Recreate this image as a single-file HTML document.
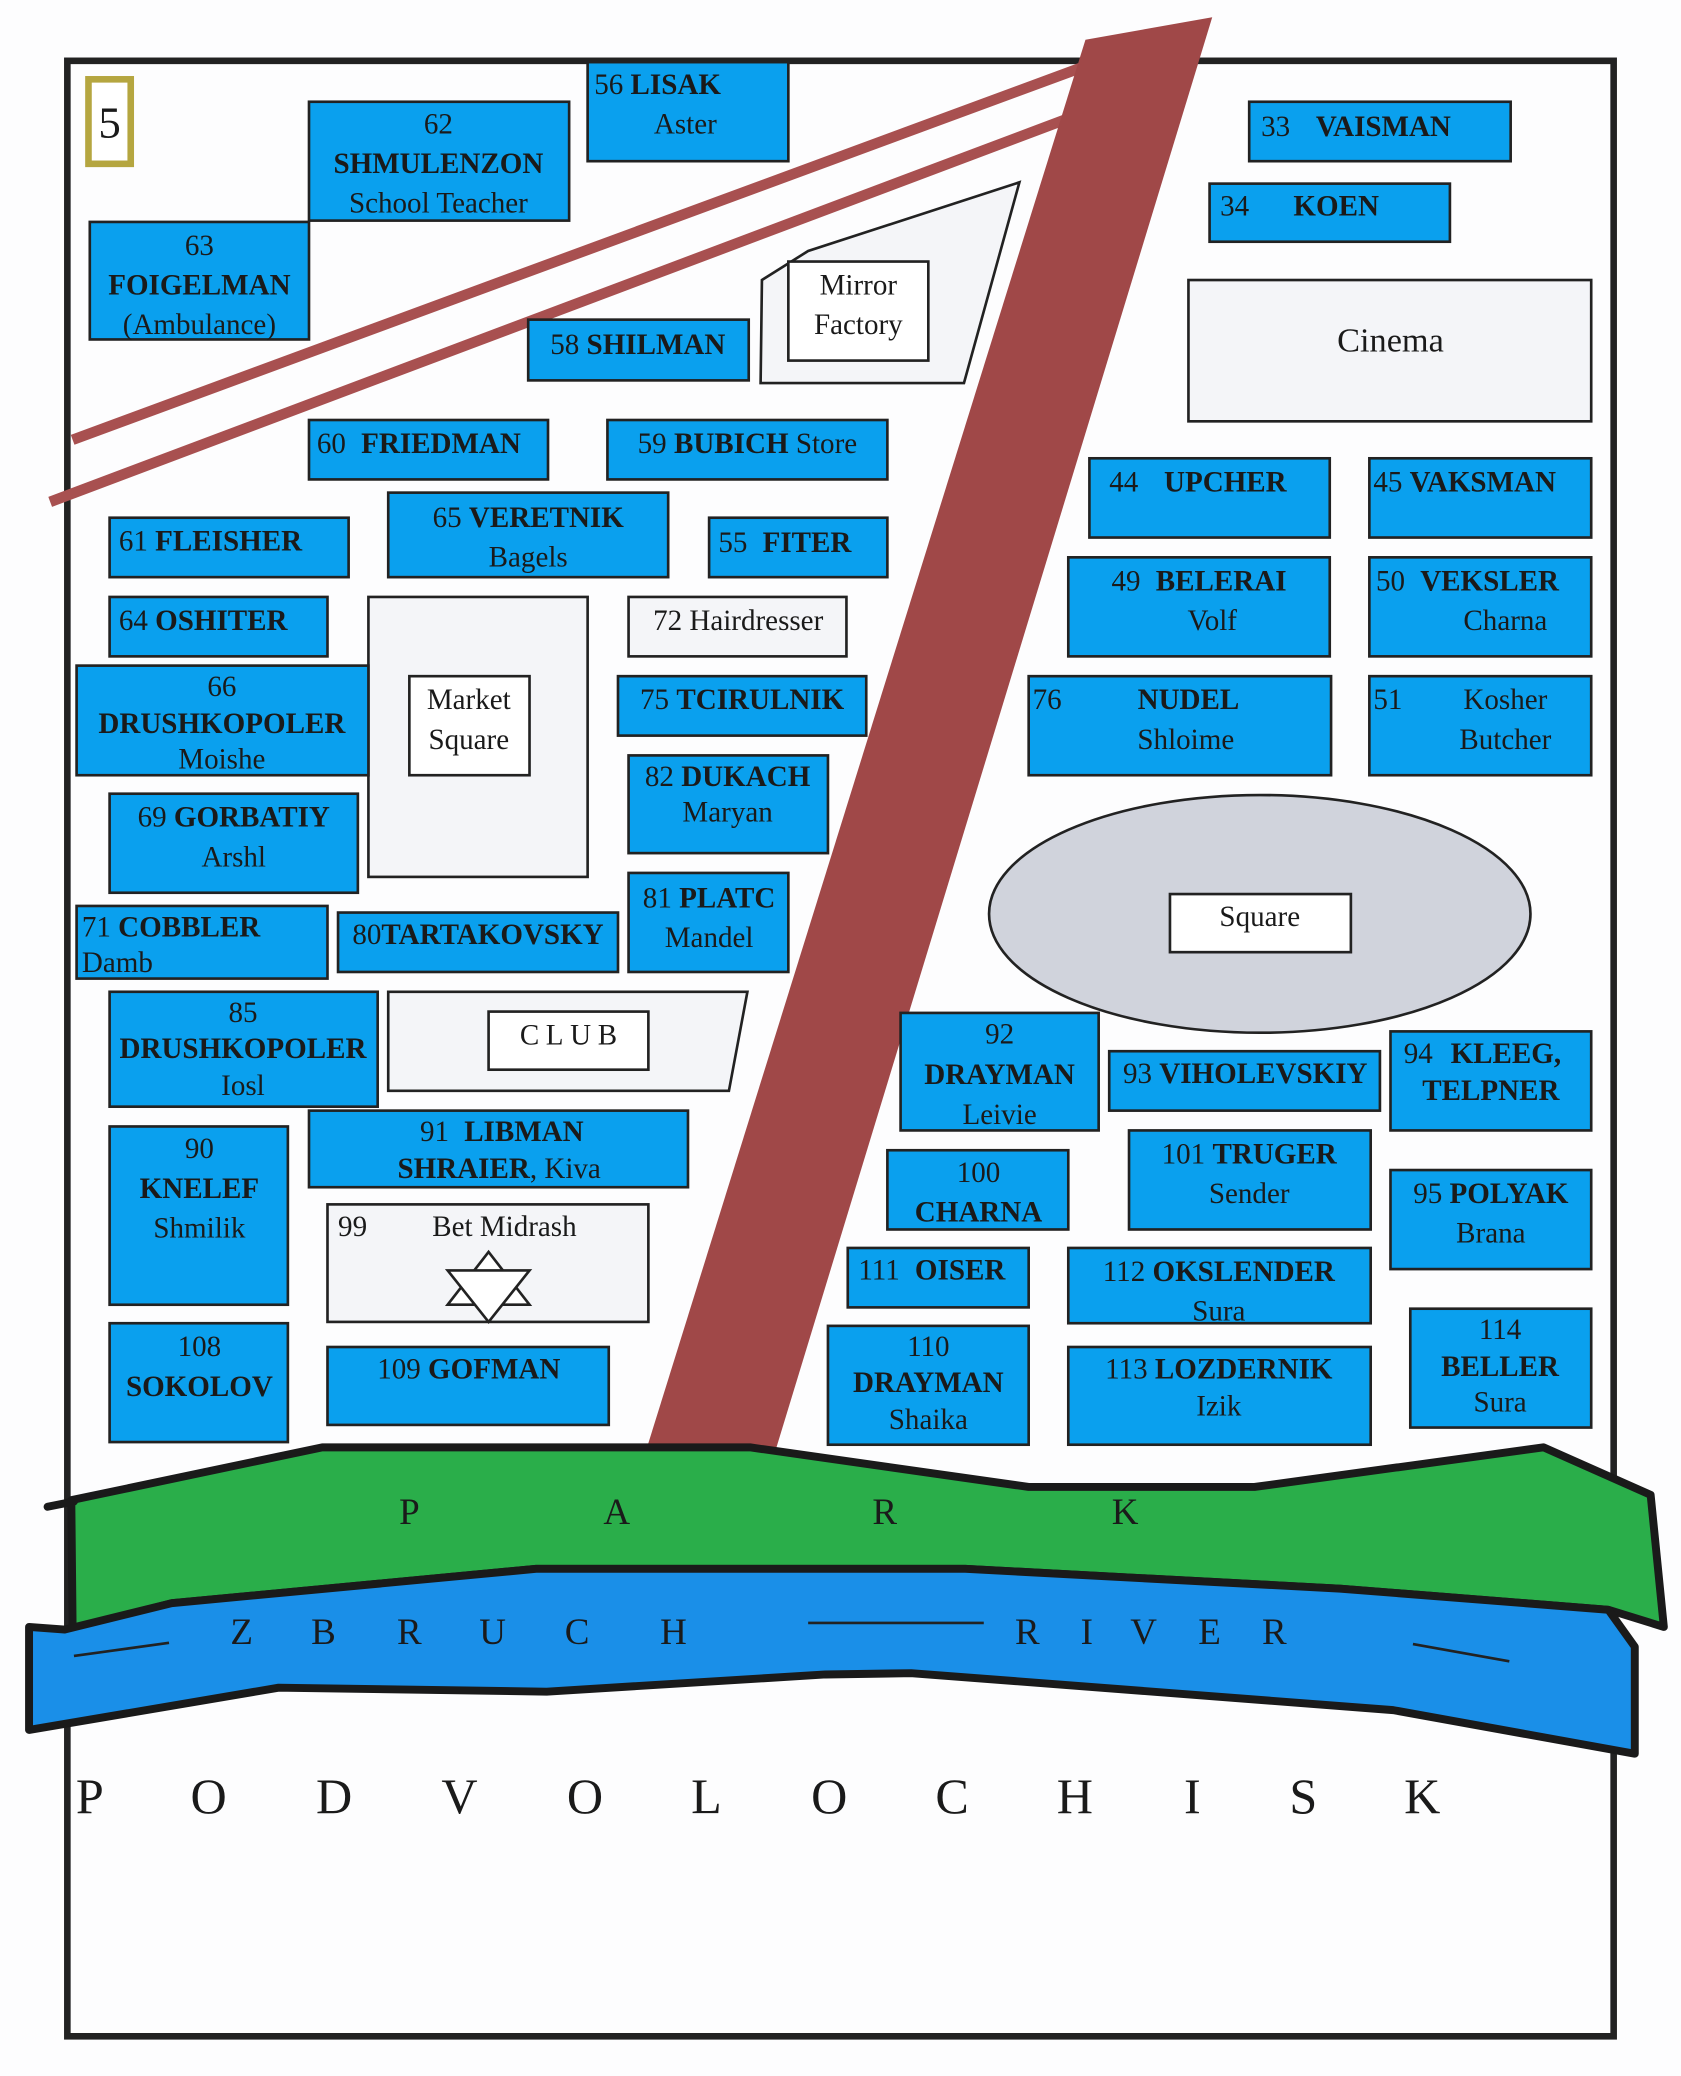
<!DOCTYPE html>
<html><head><meta charset="utf-8">
<style>
html,body{margin:0;padding:0;background:#fdfdfe;}
svg{display:block;}
text{font-family:"Liberation Serif",serif;font-size:22px;fill:#1a1a1a;}
.b{font-weight:bold;}
.bx{fill:#0aa0ee;stroke:#222;stroke-width:2;}
.wb{fill:#f4f5f8;stroke:#222;stroke-width:2;}
.wi{fill:#fff;stroke:#222;stroke-width:2;}
.pk text{font-size:28px;}
.pv text{font-size:38px;}
</style></head><body>
<svg width="1681" height="2076" viewBox="0 0 1273 1572" xmlns="http://www.w3.org/2000/svg">
<rect x="0" y="0" width="1273" height="1572" fill="#fdfdfe"/>
<rect x="51" y="46" width="1171" height="1496" fill="none" stroke="#222" stroke-width="5"/>
<rect x="67" y="60" width="32" height="64" fill="#fff" stroke="#b5a640" stroke-width="5"/>
<text x="83" y="104" text-anchor="middle" style="font-size:34px">5</text>

<line x1="55" y1="333" x2="822" y2="50" stroke="#a85050" stroke-width="8"/>
<line x1="38" y1="380" x2="808" y2="90" stroke="#a85050" stroke-width="8"/>

<rect class="bx" x="445" y="47" width="152" height="75"/>
<text x="450" y="71"><tspan>56 </tspan><tspan class="b">LISAK</tspan></text>
<text x="519" y="101" text-anchor="middle">Aster</text>

<rect class="bx" x="234" y="77" width="197" height="90"/>
<text x="332" y="101" text-anchor="middle">62</text>
<text x="332" y="131" text-anchor="middle" class="b">SHMULENZON</text>
<text x="332" y="161" text-anchor="middle">School Teacher</text>

<rect class="bx" x="68" y="168" width="166" height="89"/>
<text x="151" y="193" text-anchor="middle">63</text>
<text x="151" y="223" text-anchor="middle" class="b">FOIGELMAN</text>
<text x="151" y="253" text-anchor="middle">(Ambulance)</text>

<rect class="bx" x="946" y="77" width="198" height="45"/>
<text x="955" y="103"><tspan>33 </tspan><tspan class="b" dx="14">VAISMAN</tspan></text>
<rect class="bx" x="916" y="139" width="182" height="44"/>
<text x="924" y="163"><tspan>34 </tspan><tspan class="b" dx="28">KOEN</tspan></text>

<rect class="wb" x="900" y="212" width="305" height="107"/>
<text x="1053" y="266" text-anchor="middle" style="font-size:26px">Cinema</text>

<polygon class="wb" points="577,212 612,190 772,138 730,290 576,290"/>
<rect class="wi" x="597" y="198" width="106" height="75"/>
<text x="650" y="223" text-anchor="middle">Mirror</text>
<text x="650" y="253" text-anchor="middle">Factory</text>

<rect class="bx" x="400" y="242" width="167" height="46"/>
<text x="483" y="268" text-anchor="middle"><tspan>58 </tspan><tspan class="b">SHILMAN</tspan></text>

<rect class="bx" x="234" y="318" width="181" height="45"/>
<text x="240" y="343"><tspan>60 </tspan><tspan class="b" dx="6">FRIEDMAN</tspan></text>
<rect class="bx" x="460" y="318" width="212" height="45"/>
<text x="566" y="343" text-anchor="middle"><tspan>59 </tspan><tspan class="b">BUBICH</tspan><tspan> Store</tspan></text>

<rect class="bx" x="825" y="347" width="182" height="60"/>
<text x="840" y="372"><tspan>44 </tspan><tspan class="b" dx="14">UPCHER</tspan></text>
<rect class="bx" x="1037" y="347" width="168" height="60"/>
<text x="1040" y="372"><tspan>45 </tspan><tspan class="b">VAKSMAN</tspan></text>

<rect class="bx" x="83" y="392" width="181" height="45"/>
<text x="90" y="417"><tspan>61 </tspan><tspan class="b">FLEISHER</tspan></text>
<rect class="bx" x="294" y="373" width="212" height="64"/>
<text x="400" y="399" text-anchor="middle"><tspan>65 </tspan><tspan class="b">VERETNIK</tspan></text>
<text x="400" y="429" text-anchor="middle">Bagels</text>
<rect class="bx" x="537" y="392" width="135" height="45"/>
<text x="544" y="418"><tspan>55 </tspan><tspan class="b" dx="6">FITER</tspan></text>

<rect class="bx" x="809" y="422" width="198" height="75"/>
<text x="908" y="447" text-anchor="middle"><tspan>49 </tspan><tspan class="b" dx="6">BELERAI</tspan></text>
<text x="918" y="477" text-anchor="middle">Volf</text>
<rect class="bx" x="1037" y="422" width="168" height="75"/>
<text x="1042" y="447"><tspan>50 </tspan><tspan class="b" dx="6">VEKSLER</tspan></text>
<text x="1140" y="477" text-anchor="middle">Charna</text>

<rect class="bx" x="83" y="452" width="165" height="45"/>
<text x="90" y="477"><tspan>64 </tspan><tspan class="b">OSHITER</tspan></text>

<rect class="wb" x="279" y="452" width="166" height="212"/>
<rect class="wi" x="310" y="512" width="91" height="75"/>
<text x="355" y="537" text-anchor="middle">Market</text>
<text x="355" y="567" text-anchor="middle">Square</text>

<rect class="wb" x="476" y="452" width="165" height="45"/>
<text x="559" y="477" text-anchor="middle">72 Hairdresser</text>

<rect class="bx" x="58" y="504" width="221" height="83"/>
<text x="168" y="527" text-anchor="middle">66</text>
<text x="168" y="555" text-anchor="middle" class="b">DRUSHKOPOLER</text>
<text x="168" y="582" text-anchor="middle">Moishe</text>

<rect class="bx" x="468" y="512" width="188" height="45"/>
<text x="562" y="537" text-anchor="middle"><tspan>75 </tspan><tspan class="b">TCIRULNIK</tspan></text>

<rect class="bx" x="779" y="512" width="229" height="75"/>
<text x="782" y="537">76</text>
<text x="900" y="537" text-anchor="middle" class="b">NUDEL</text>
<text x="898" y="567" text-anchor="middle">Shloime</text>
<rect class="bx" x="1037" y="512" width="168" height="75"/>
<text x="1040" y="537">51</text>
<text x="1140" y="537" text-anchor="middle">Kosher</text>
<text x="1140" y="567" text-anchor="middle">Butcher</text>

<rect class="bx" x="476" y="572" width="151" height="74"/>
<text x="551" y="595" text-anchor="middle"><tspan>82 </tspan><tspan class="b">DUKACH</tspan></text>
<text x="551" y="622" text-anchor="middle">Maryan</text>

<rect class="bx" x="83" y="601" width="188" height="75"/>
<text x="177" y="626" text-anchor="middle"><tspan>69 </tspan><tspan class="b">GORBATIY</tspan></text>
<text x="177" y="656" text-anchor="middle">Arshl</text>

<ellipse cx="954" cy="692" rx="205" ry="90" fill="#d0d3dc" stroke="#222" stroke-width="2"/>
<rect class="wi" x="886" y="677" width="137" height="44"/>
<text x="954" y="701" text-anchor="middle">Square</text>

<rect class="bx" x="476" y="661" width="121" height="75"/>
<text x="537" y="687" text-anchor="middle"><tspan>81 </tspan><tspan class="b">PLATC</tspan></text>
<text x="537" y="717" text-anchor="middle">Mandel</text>

<rect class="bx" x="58" y="686" width="190" height="55"/>
<text x="62" y="709"><tspan>71 </tspan><tspan class="b">COBBLER</tspan></text>
<text x="62" y="736">Damb</text>
<rect class="bx" x="256" y="691" width="212" height="45"/>
<text x="362" y="715" text-anchor="middle"><tspan>80</tspan><tspan class="b">TARTAKOVSKY</tspan></text>

<polygon class="wb" points="294,751 566,751 552,826 294,826"/>
<rect class="wi" x="370" y="766" width="121" height="44"/>
<text x="433" y="791" text-anchor="middle" style="letter-spacing:5px">CLUB</text>

<rect class="bx" x="83" y="751" width="203" height="87"/>
<text x="184" y="774" text-anchor="middle">85</text>
<text x="184" y="801" text-anchor="middle" class="b">DRUSHKOPOLER</text>
<text x="184" y="829" text-anchor="middle">Iosl</text>

<polygon points="822,30 918,13 588,1096 490,1096" fill="#a04848"/>

<rect class="bx" x="682" y="767" width="150" height="89"/>
<text x="757" y="790" text-anchor="middle">92</text>
<text x="757" y="821" text-anchor="middle" class="b">DRAYMAN</text>
<text x="757" y="851" text-anchor="middle">Leivie</text>
<rect class="bx" x="840" y="796" width="205" height="45"/>
<text x="943" y="820" text-anchor="middle"><tspan>93 </tspan><tspan class="b">VIHOLEVSKIY</tspan></text>
<rect class="bx" x="1053" y="781" width="152" height="75"/>
<text x="1063" y="805"><tspan>94 </tspan><tspan class="b" dx="8">KLEEG,</tspan></text>
<text x="1129" y="833" text-anchor="middle" class="b">TELPNER</text>

<rect class="bx" x="83" y="853" width="135" height="135"/>
<text x="151" y="877" text-anchor="middle">90</text>
<text x="151" y="907" text-anchor="middle" class="b">KNELEF</text>
<text x="151" y="937" text-anchor="middle">Shmilik</text>
<rect class="bx" x="234" y="841" width="287" height="58"/>
<text x="380" y="864" text-anchor="middle"><tspan>91 </tspan><tspan class="b" dx="6">LIBMAN</tspan></text>
<text x="378" y="892" text-anchor="middle"><tspan class="b">SHRAIER</tspan><tspan>,  Kiva</tspan></text>

<rect class="bx" x="672" y="871" width="137" height="60"/>
<text x="741" y="895" text-anchor="middle">100</text>
<text x="741" y="925" text-anchor="middle" class="b">CHARNA</text>
<rect class="bx" x="855" y="856" width="183" height="75"/>
<text x="946" y="881" text-anchor="middle"><tspan>101 </tspan><tspan class="b">TRUGER</tspan></text>
<text x="946" y="911" text-anchor="middle">Sender</text>
<rect class="bx" x="1053" y="886" width="152" height="75"/>
<text x="1129" y="911" text-anchor="middle"><tspan>95 </tspan><tspan class="b">POLYAK</tspan></text>
<text x="1129" y="941" text-anchor="middle">Brana</text>

<rect class="wb" x="248" y="912" width="243" height="89"/>
<text x="256" y="936">99</text>
<text x="382" y="936" text-anchor="middle">Bet Midrash</text>
<polygon points="370,948 401,988 339,988" fill="#fff" stroke="#222" stroke-width="2"/>
<polygon points="370,1001 401,962 339,962" fill="#fff" stroke="#222" stroke-width="2"/>

<rect class="bx" x="642" y="945" width="137" height="45"/>
<text x="650" y="969"><tspan>111 </tspan><tspan class="b" dx="6">OISER</tspan></text>
<rect class="bx" x="809" y="945" width="229" height="57"/>
<text x="923" y="970" text-anchor="middle"><tspan>112 </tspan><tspan class="b">OKSLENDER</tspan></text>
<text x="923" y="1000" text-anchor="middle">Sura</text>

<rect class="bx" x="83" y="1002" width="135" height="90"/>
<text x="151" y="1027" text-anchor="middle">108</text>
<text x="151" y="1057" text-anchor="middle" class="b">SOKOLOV</text>
<rect class="bx" x="248" y="1020" width="213" height="59"/>
<text x="355" y="1044" text-anchor="middle"><tspan>109 </tspan><tspan class="b">GOFMAN</tspan></text>

<rect class="bx" x="627" y="1004" width="152" height="90"/>
<text x="703" y="1027" text-anchor="middle">110</text>
<text x="703" y="1054" text-anchor="middle" class="b">DRAYMAN</text>
<text x="703" y="1082" text-anchor="middle">Shaika</text>
<rect class="bx" x="809" y="1020" width="229" height="74"/>
<text x="923" y="1044" text-anchor="middle"><tspan>113 </tspan><tspan class="b">LOZDERNIK</tspan></text>
<text x="923" y="1072" text-anchor="middle">Izik</text>
<rect class="bx" x="1068" y="991" width="137" height="90"/>
<text x="1136" y="1014" text-anchor="middle">114</text>
<text x="1136" y="1042" text-anchor="middle" class="b">BELLER</text>
<text x="1136" y="1069" text-anchor="middle">Sura</text>

<!-- park -->
<polygon points="54,1136 244,1096 568,1096 779,1126 950,1126 1169,1096 1250,1132 1260,1232 1218,1219 1015,1203 731,1188 406,1188 130,1214 55,1234" fill="#2aae4a" stroke="#1a1a1a" stroke-width="6" stroke-linejoin="round"/>
<line x1="36" y1="1141" x2="56" y2="1137" stroke="#1a1a1a" stroke-width="6" stroke-linecap="round"/>
<!-- river -->
<polygon points="22,1232 49,1234 130,1214 406,1188 731,1188 1015,1203 1218,1219 1238,1247 1238,1328 1055,1295 690,1267 625,1268 414,1281 211,1278 22,1310" fill="#1a8fe8" stroke="#1a1a1a" stroke-width="6" stroke-linejoin="round"/>
<g class="pk">
<text x="310" y="1154" text-anchor="middle">P</text>
<text x="467" y="1154" text-anchor="middle">A</text>
<text x="670" y="1154" text-anchor="middle">R</text>
<text x="852" y="1154" text-anchor="middle">K</text>
<text x="183" y="1245" text-anchor="middle">Z</text>
<text x="245" y="1245" text-anchor="middle">B</text>
<text x="310" y="1245" text-anchor="middle">R</text>
<text x="373" y="1245" text-anchor="middle">U</text>
<text x="437" y="1245" text-anchor="middle">C</text>
<text x="510" y="1245" text-anchor="middle">H</text>
<text x="778" y="1245" text-anchor="middle">R</text>
<text x="823" y="1245" text-anchor="middle">I</text>
<text x="866" y="1245" text-anchor="middle">V</text>
<text x="916" y="1245" text-anchor="middle">E</text>
<text x="965" y="1245" text-anchor="middle">R</text>
</g>
<line x1="612" y1="1229" x2="745" y2="1229" stroke="#222" stroke-width="2"/>
<line x1="56" y1="1254" x2="128" y2="1244" stroke="#222" stroke-width="2"/>
<line x1="1070" y1="1245" x2="1143" y2="1258" stroke="#222" stroke-width="2"/>

<g class="pv">
<text x="68" y="1373" text-anchor="middle">P</text>
<text x="158" y="1373" text-anchor="middle">O</text>
<text x="253" y="1373" text-anchor="middle">D</text>
<text x="348" y="1373" text-anchor="middle">V</text>
<text x="443" y="1373" text-anchor="middle">O</text>
<text x="535" y="1373" text-anchor="middle">L</text>
<text x="628" y="1373" text-anchor="middle">O</text>
<text x="721" y="1373" text-anchor="middle">C</text>
<text x="814" y="1373" text-anchor="middle">H</text>
<text x="903" y="1373" text-anchor="middle">I</text>
<text x="987" y="1373" text-anchor="middle">S</text>
<text x="1077" y="1373" text-anchor="middle">K</text>
</g>
</svg>
</body></html>
